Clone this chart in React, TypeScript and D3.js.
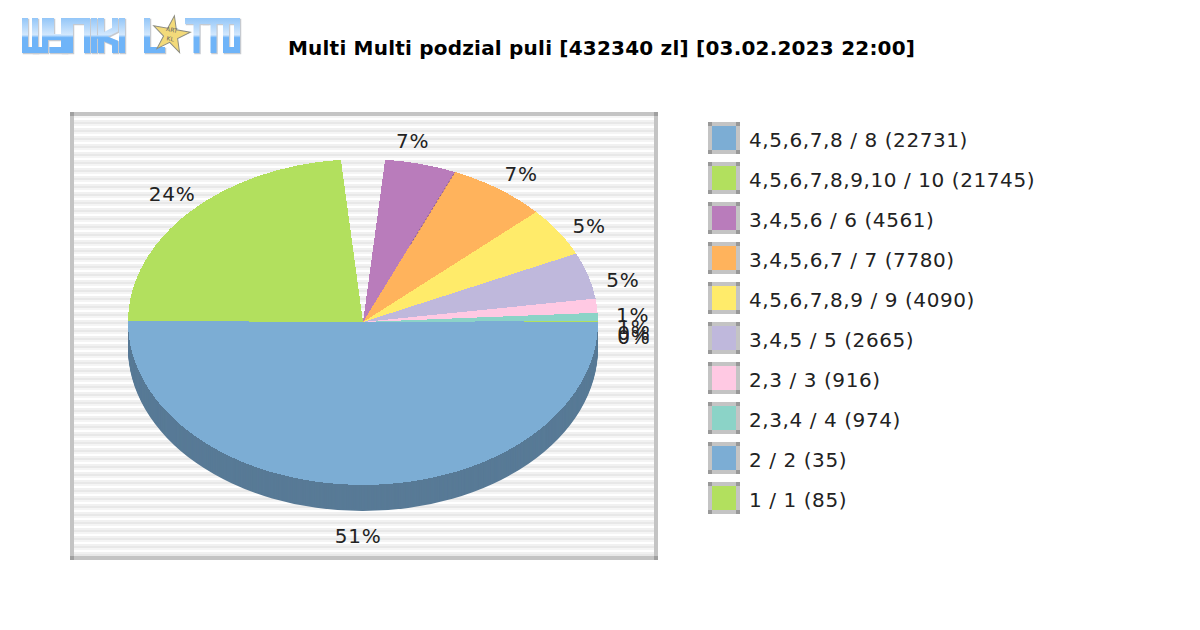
import React from 'react';
import * as d3 from 'd3';

// ── Data ──────────────────────────────────────────────────────────────────────
const TITLE = 'Multi Multi podzial puli [432340 zl] [03.02.2023 22:00]';
const legendLabels = [
  '4,5,6,7,8 / 8 (22731)',
  '4,5,6,7,8,9,10 / 10 (21745)',
  '3,4,5,6 / 6 (4561)',
  '3,4,5,6,7 / 7 (7780)',
  '4,5,6,7,8,9 / 9 (4090)',
  '3,4,5 / 5 (2665)',
  '2,3 / 3 (916)',
  '2,3,4 / 4 (974)',
  '2 / 2 (35)',
  '1 / 1 (85)',
];
const percentLabels = ['51%', '24%', '7%', '7%', '5%', '5%', '1%', '1%', '0%', '0%'];
const colours = ['#7cadd4', '#b2e05e', '#b97cbb', '#ffb35c', '#ffeb6a', '#bfb8dc', '#ffc9e3', '#8bd3c7', '#7cadd4', '#b2e05e'];
// swept share of the ellipse, clockwise from east
const drawnShares = [50.1, 23.4, 4.9, 6.8, 4.9, 4.6, 1.4, 0.8, 0.03, 0.07];
// the picture leaves an empty wedge between the second and third slice
const gapShare = 3.0;
const GAP_AFTER = 1;

// ── Layout ────────────────────────────────────────────────────────────────────
const W = 1200;
const H = 630;
const CX = 363;
const CY = 322;
const RX = 235;
const RY = 163;
const DEPTH = 26;
const PLOT = { x: 70, y: 112, w: 588, h: 448 };
const BORDER = 4;
const SIDE_COLOUR = '#587a96';
const FONT = '"DejaVu Sans", sans-serif';
const labelNudge = [[-4, -3], [6, -9], [-16, -8], [4, -3], [4, 1], [4, 5], [4, 6], [4, 5], [4, 6], [4, 9]];
const stripeBands = [
  { at: 0, fill: '#f1f1f1' },
  { at: 2, fill: '#e8e8e8' },
  { at: 4, fill: '#f5f5f5' },
];

// logo letters as polylines in a unit box: [left, right, strokes]
type Glyph = [number, number, [number, number][][]];
const logoGlyphs: Glyph[] = [
  [25, 45, [[[0, 0], [0, 1], [1, 1], [1, 0]], [[0.5, 0], [0.5, 1]]]],
  [51, 64, [[[0, 0], [0, 0.55], [1, 0.55]], [[1, 0], [1, 1]], [[0.1, 1], [1, 1]]]],
  [70, 87, [[[0, 1], [0, 0], [1, 0], [1, 1]]]],
  [94, 94, [[[0, 0], [0, 1]]]],
  [101, 115, [[[0, 0], [0, 1]], [[1, 0], [1, 0.3], [0, 0.55], [1, 0.75], [1, 1]]]],
  [122, 122, [[[0, 0], [0, 1]]]],
  [147, 162, [[[0, 0], [0, 1], [1, 1]]]],
  [188, 205, [[[0, 0], [1, 0]], [[0.5, 0], [0.5, 1]]]],
  [205, 222, [[[0, 0], [1, 0]], [[0.5, 0], [0.5, 1]]]],
  [226, 237, [[[0, 0], [1, 0], [1, 1], [0, 1], [0, 0]]]],
];
const LOGO_TOP = 21;
const LOGO_H = 29;

const pieValues = [
  ...drawnShares.slice(0, GAP_AFTER + 1).map((v, i) => ({ v, i })),
  { v: gapShare, i: -1 },
  ...drawnShares.slice(GAP_AFTER + 1).map((v, i) => ({ v, i: i + GAP_AFTER + 1 })),
];

const pie = d3.pie<{ v: number; i: number }>()
  .sort(null)
  .value(d => d.v)
  .startAngle(Math.PI / 2)
  .endAngle(Math.PI / 2 + 2 * Math.PI);

const arcs = pie(pieValues);
const arc = d3.arc<d3.PieArcDatum<{ v: number; i: number }>>().innerRadius(0).outerRadius(RX);
const stripes = d3.range(PLOT.y, PLOT.y + PLOT.h, 8);

const ellipsePoint = (angle: number, k: number): [number, number] => [
  CX + RX * k * Math.sin(angle),
  CY - RY * k * Math.cos(angle),
];

const Swatch: React.FC<{ y: number; fill: string }> = ({ y, fill }) => (
  <g transform={`translate(708,${y})`}>
    <rect width={32} height={32} fill="#c4c4c4" />
    {[[0, 0], [28, 0], [0, 28], [28, 28]].map(([a, b]) => (
      <rect key={`${a}-${b}`} x={a} y={b} width={4} height={4} fill="#999" />
    ))}
    <rect x={4} y={4} width={24} height={24} fill={fill} />
  </g>
);

const Logo: React.FC = () => {
  const star = d3.symbol(d3.symbolStar, 430)() as string;
  const line = d3.line();
  const glyphPaths = logoGlyphs.flatMap(([l, r, strokes]) =>
    strokes.map(s => line(s.map(([u, v]) => [l + u * (r - l), LOGO_TOP + v * LOGO_H] as [number, number])) as string));
  return (
    <g>
      <defs>
        <linearGradient id="logo-grad" gradientUnits="userSpaceOnUse" x1="0" x2="0" y1={LOGO_TOP - 3} y2={LOGO_TOP + LOGO_H + 3}>
          <stop offset="0%" stopColor="#93c6f8" />
          <stop offset="48%" stopColor="#d3e8fd" />
          <stop offset="56%" stopColor="#6fb4f8" />
          <stop offset="100%" stopColor="#6fb4f8" />
        </linearGradient>
      </defs>
      {glyphPaths.map((d, i) => (
        <path key={`s${i}`} d={d} transform="translate(1,1)" fill="none" stroke="#c6cad0" strokeWidth={6.5} strokeLinecap="square" strokeLinejoin="miter" />
      ))}
      {glyphPaths.map((d, i) => (
        <path key={`g${i}`} d={d} fill="none" stroke="url(#logo-grad)" strokeWidth={6} strokeLinecap="square" strokeLinejoin="miter" />
      ))}
      <g transform="translate(171,35) rotate(10)">
        <path d={star} fill="#f3da7a" stroke="#8d8d80" strokeWidth={1} />
        <text textAnchor="middle" y={-3} fontSize={6} fontFamily={FONT} fill="#666">ART</text>
        <text textAnchor="middle" y={6} fontSize={6} fontFamily={FONT} fill="#666">KL</text>
      </g>
    </g>
  );
};

export default function App() {
  const innerX = PLOT.x + BORDER;
  const innerW = PLOT.w - 2 * BORDER;
  const orangeEdge = arcs.find(a => a.data.i === 3)!.startAngle;
  return (
    <svg width={W} height={H} viewBox={`0 0 ${W} ${H}`} style={{ position: 'absolute', left: 0, top: 0, background: '#fff' }}>
      <Logo />
      <text x={288} y={55} fontFamily={FONT} fontWeight="bold" fontSize={20} fill="#000"
        textLength={627} lengthAdjust="spacing">{TITLE}</text>

      {/* plot frame and stripes */}
      <rect x={PLOT.x} y={PLOT.y} width={PLOT.w} height={PLOT.h} fill="#fff" />
      {stripes.map(y => stripeBands.map(b => (
        <rect key={`${y}-${b.at}`} x={innerX} y={y + b.at} width={innerW} height={2} fill={b.fill} />
      )))}
      <path
        fillRule="evenodd"
        fill="#c4c4c4"
        d={`M${PLOT.x},${PLOT.y}h${PLOT.w}v${PLOT.h}h${-PLOT.w}z M${innerX},${PLOT.y + BORDER}v${PLOT.h - 2 * BORDER}h${innerW}v${-(PLOT.h - 2 * BORDER)}z`}
      />
      {[[0, 0], [PLOT.w - BORDER, 0], [0, PLOT.h - BORDER], [PLOT.w - BORDER, PLOT.h - BORDER]].map(([a, b]) => (
        <rect key={`${a}-${b}`} x={PLOT.x + a} y={PLOT.y + b} width={BORDER} height={BORDER} fill="#a0a0a0" />
      ))}

      {/* extruded side of the front slice */}
      {d3.range(DEPTH, 0, -1).map(d => (
        <path key={d} transform={`translate(${CX},${CY + d}) scale(1,${RY / RX})`} d={arc(arcs[0]) as string} fill={SIDE_COLOUR} />
      ))}

      {/* top face */}
      <g transform={`translate(${CX},${CY}) scale(1,${RY / RX})`} shapeRendering="crispEdges">
        {arcs.filter(a => a.data.i >= 0).map(a => (
          <path key={a.data.i} d={arc(a) as string} fill={colours[a.data.i]} />
        ))}
      </g>
      {/* dark fringe on the upper part of the purple / orange edge */}
      <path
        d={d3.line()([ellipsePoint(orangeEdge, 0.52), ellipsePoint(orangeEdge, 1)]) as string}
        stroke="#8a5a8c" strokeWidth={1} strokeDasharray="2 2" fill="none"
      />

      {/* percent labels */}
      {arcs.filter(a => a.data.i >= 0).map(a => {
        const mid = (a.startAngle + a.endAngle) / 2;
        const s = Math.sin(mid);
        const c = Math.cos(mid);
        const [nx, ny] = labelNudge[a.data.i];
        const x = CX + RX * s + 32 * s + nx;
        const y = CY - RY * c - 22 * c + 6 + (c < -0.5 ? DEPTH : 0) + ny;
        return (
          <text key={a.data.i} x={x} y={y} textAnchor="middle" dominantBaseline="central" fontFamily={FONT} fontSize={20} letterSpacing={0.8} fill="#222">
            {percentLabels[a.data.i]}
          </text>
        );
      })}

      {/* legend */}
      {legendLabels.map((l, i) => (
        <g key={l}>
          <Swatch y={122 + i * 40} fill={colours[i]} />
          <text x={749} y={140 + i * 40} dominantBaseline="central" fontFamily={FONT} fontSize={20} letterSpacing={0.58} fill="#222">{l}</text>
        </g>
      ))}
    </svg>
  );
}
